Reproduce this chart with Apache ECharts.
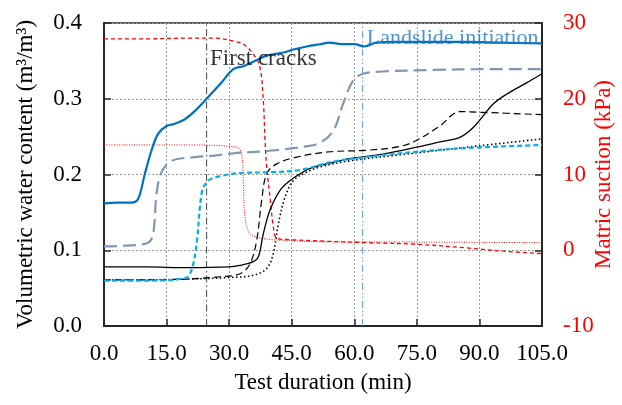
<!DOCTYPE html>
<html><head><meta charset="utf-8">
<script src="https://cdn.jsdelivr.net/npm/echarts@6/dist/echarts.min.js"></script>
<style>html,body{margin:0;padding:0;background:#fff}#c{width:622px;height:405px}</style>
</head><body><div id="c"></div>
<script>
// Time ticks (min)
const xTicks = [0, 15, 30, 45, 60, 75, 90, 105];
// Event times (min)
const crackT = 24.6;
const landslideT = 62;
const crackLabel = 'First cracks';
const landslideLabel = 'Landslide initiation';
const crackLabelPos = [25.4, 0.353];
const landslideLabelPos = [63, 0.380];

// VWC series (m3/m3)
const blueT = [0, 3, 6.6, 8.2, 9.8, 11.4, 13, 15, 17, 19.4, 21.8, 24.6, 27.8, 31, 33.4, 36.6, 39, 43, 45.4, 48.6, 51.8, 54, 57, 60, 62.5, 65.3, 70, 79, 87, 95, 105];
const blueV = [0.162, 0.163, 0.163, 0.168, 0.201, 0.232, 0.254, 0.264, 0.267, 0.273, 0.284, 0.300, 0.319, 0.339, 0.343, 0.351, 0.357, 0.361, 0.365, 0.369, 0.372, 0.374, 0.372, 0.372, 0.369, 0.374, 0.375, 0.375, 0.375, 0.374, 0.373];

const greyT = [0, 5, 10.6, 11.8, 12.6, 13.8, 16.2, 21.8, 26.6, 31, 39, 47, 51.8, 55, 57.3, 59.7, 62.1, 66.9, 78.9, 90.9, 105];
const greyV = [0.105, 0.106, 0.110, 0.122, 0.175, 0.203, 0.218, 0.223, 0.225, 0.228, 0.231, 0.236, 0.242, 0.258, 0.293, 0.324, 0.333, 0.336, 0.338, 0.339, 0.339];

const bDashT = [0, 10, 20, 27.8, 32.6, 35, 36.6, 37.8, 39, 41.4, 46.2, 54.2, 63, 70.9, 74.9, 80.5, 85.3, 90.9, 105];
const bDashV = [0.061, 0.061, 0.062, 0.065, 0.069, 0.082, 0.113, 0.166, 0.201, 0.214, 0.223, 0.230, 0.232, 0.237, 0.245, 0.264, 0.283, 0.282, 0.279];

const bSolidT = [0, 10, 20, 30, 32.6, 35.8, 37, 38.2, 39.8, 42.2, 44.6, 47, 49.4, 51.8, 54.2, 58.9, 66.9, 74.9, 80.5, 85.3, 88.5, 93.3, 96.5, 101.3, 105];
const bSolidV = [0.078, 0.078, 0.077, 0.078, 0.080, 0.085, 0.091, 0.122, 0.153, 0.179, 0.192, 0.201, 0.208, 0.212, 0.215, 0.221, 0.227, 0.236, 0.243, 0.249, 0.262, 0.293, 0.306, 0.321, 0.333];

const bDotT = [0, 10, 20, 30, 35.8, 39, 40.6, 41.8, 43.4, 45.4, 48.6, 51.8, 58.9, 70.9, 86.9, 105];
const bDotV = [0.061, 0.061, 0.062, 0.064, 0.067, 0.076, 0.096, 0.135, 0.170, 0.192, 0.203, 0.210, 0.218, 0.226, 0.236, 0.247];

const cyanT = [0, 10, 19.4, 21, 22.2, 23.4, 24.6, 26.6, 32.6, 39.8, 47, 55, 63, 78.9, 90.9, 105];
const cyanV = [0.060, 0.060, 0.063, 0.074, 0.109, 0.175, 0.190, 0.196, 0.202, 0.203, 0.206, 0.217, 0.223, 0.232, 0.236, 0.239];

// Matric suction series (kPa)
const rDashT = [0, 10, 20, 27, 30.2, 33.4, 35.8, 37.4, 38.2, 38.6, 39, 39.8, 40.6, 41.4, 44.6, 51.8, 63, 74.9, 86.9, 94.9, 105];
const rDashS = [27.9, 27.9, 28.0, 28.0, 27.7, 27.2, 25.9, 24.1, 19.7, 14.5, 11.0, 7.0, 3.07, 1.6, 1.4, 1.22, 1.0, 0.79, 0.31, -0.09, -0.44];

const rDotT = [0, 10, 20, 31.8, 33, 33.4, 33.8, 35, 38.2, 43.8, 54.2, 70.9, 105];
const rDotS = [13.9, 13.9, 13.9, 13.6, 12.7, 9.2, 4.4, 2.2, 1.54, 1.3, 1.1, 1.09, 1.0];

const zip = (a, b) => a.map((t, i) => [t, b[i]]);
const FONT = '"Liberation Serif", "Times New Roman", serif';

function lineSeries(t, v, color, width, type, yIdx, z) {
  return {
    type: 'line', data: zip(t, v), yAxisIndex: yIdx || 0, showSymbol: false, symbol: 'none',
    smooth: 0.35, z: z || 2,
    lineStyle: { color: color, width: width, type: type, cap: 'butt', join: 'round' }
  };
}

const chart = echarts.init(document.getElementById('c'), null, { renderer: 'canvas' });
const axisLineStyle = { color: '#262626', width: 2 };
const tickStyle = { color: '#262626', width: 1.5 };
chart.setOption({
  animation: false,
  backgroundColor: '#fff',
  grid: { left: 104, right: 80, top: 23, bottom: 79, containLabel: false, outerBoundsMode: 'none',
    show: true, borderColor: '#262626', borderWidth: 1.5, backgroundColor: 'transparent' },
  xAxis: {
    type: 'value', min: 0, max: 105, interval: 15,
    name: 'Test duration (min)', nameLocation: 'middle', nameGap: 45, nameMoveOverlap: false,
    nameTextStyle: { fontFamily: FONT, fontSize: 23, color: '#000' },
    axisLine: { show: true, lineStyle: axisLineStyle },
    axisTick: { show: true, inside: true, length: 7, lineStyle: tickStyle },
    axisLabel: { fontFamily: FONT, fontSize: 23, color: '#000', margin: 16, formatter: v => v.toFixed(1) },
    splitLine: { show: true, lineStyle: { color: '#9a9a9a', type: [2, 2], width: 1 } }
  },
  yAxis: [
    {
      type: 'value', min: 0, max: 0.4, interval: 0.1, position: 'left',
      name: 'Volumetric water content (m³/m³)', nameLocation: 'middle', nameGap: 67, nameMoveOverlap: false,
      nameTextStyle: { fontFamily: FONT, fontSize: 23, color: '#000' },
      axisLine: { show: true, lineStyle: axisLineStyle },
      axisTick: { show: true, inside: true, length: 7, lineStyle: tickStyle },
      axisLabel: { fontFamily: FONT, fontSize: 23, color: '#000', margin: 22, formatter: v => v.toFixed(1) },
      splitLine: { show: true, lineStyle: { color: '#9a9a9a', type: [2, 2], width: 1 } }
    },
    {
      type: 'value', min: -10, max: 30, interval: 10, position: 'right',
      name: 'Matric suction (kPa)', nameLocation: 'middle', nameGap: 50, nameMoveOverlap: false,
      nameTextStyle: { fontFamily: FONT, fontSize: 23, color: '#ff0000' },
      axisLine: { show: true, lineStyle: axisLineStyle },
      axisTick: { show: true, inside: true, length: 7, lineStyle: tickStyle },
      axisLabel: { fontFamily: FONT, fontSize: 23, color: '#ff0000', margin: 21 },
      splitLine: { show: false }
    }
  ],
  series: [
    {
      type: 'line', data: [[crackT, 0], [crackT, 0.4]], symbol: 'none', z: 1,
      lineStyle: { color: '#444', width: 1, type: [7, 3, 1.5, 3] }
    },
    {
      type: 'line', data: [[landslideT, 0], [landslideT, 0.4]], symbol: 'none', z: 1,
      lineStyle: { color: '#5B9BD5', width: 1, type: [7, 3, 1.5, 2, 1.5, 3] }
    },
    lineSeries(rDotT, rDotS, '#ff0000', 1, [1, 1.5], 1, 2),
    lineSeries(rDashT, rDashS, '#ff0000', 1.3, [4, 3], 1, 2),
    lineSeries(bDotT, bDotV, '#000', 1.6, [1.5, 2.5], 0, 3),
    lineSeries(bDashT, bDashV, '#000', 1.2, [7, 4], 0, 3),
    lineSeries(bSolidT, bSolidV, '#000', 1.3, 'solid', 0, 3),
    lineSeries(cyanT, cyanV, '#00B0F0', 2.2, [5, 3], 0, 3),
    lineSeries(greyT, greyV, '#8497B0', 2.2, [13, 6], 0, 3),
    lineSeries(blueT, blueV, '#0070C0', 2.2, 'solid', 0, 4),
    {
      type: 'scatter', data: [crackLabelPos], symbolSize: 0, z: 5,
      label: { show: true, position: 'right', distance: 0, formatter: crackLabel, fontFamily: FONT, fontSize: 23, color: '#000' }
    },
    {
      type: 'scatter', data: [landslideLabelPos], symbolSize: 0, z: 5,
      label: { show: true, position: 'right', distance: 0, formatter: landslideLabel, fontFamily: FONT, fontSize: 22, color: '#1F78C8' }
    }
  ]
});
</script>
</body></html>
